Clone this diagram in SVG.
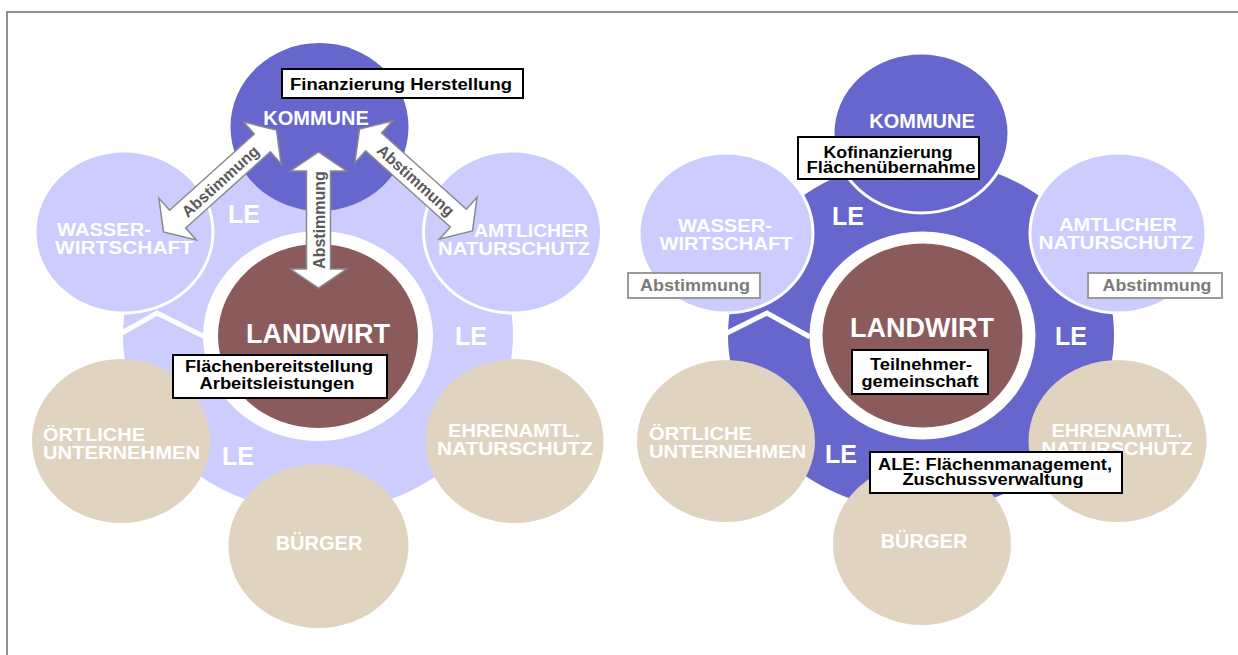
<svg xmlns="http://www.w3.org/2000/svg" width="1238" height="655" viewBox="0 0 1238 655">
<defs>
<style>
text { font-family: "Liberation Sans", Arial, sans-serif; font-weight: bold; }
.lbl { fill: #ffffff; font-size: 20px; }
.lb2 { fill: #ffffff; font-size: 18px; }
.le { fill: #ffffff; font-size: 25px; }
.lw { fill: #ffffff; font-size: 27px; }
.box { fill: #ffffff; stroke: #000000; stroke-width: 2; }
.boxt { fill: #000000; font-size: 16px; }
.gbox { fill: #ffffff; stroke: #9a9a9a; stroke-width: 2; }
.gboxt { fill: #7a7a7a; font-size: 16px; }
.lav { fill: #ccccff; }
.pur { fill: #6666cc; }
.beige { fill: #e0d4c0; }
.brown { fill: #8b5a5a; }
.ring { fill: #ffffff; }
.ws { stroke: #ffffff; stroke-width: 3; }
.notch { fill: none; stroke: #ffffff; stroke-width: 5; }
.arrow { fill: #ffffff; stroke: #8a8a8a; stroke-width: 1.5; }
.arrt { fill: #5a5a5a; font-size: 16px; }
</style>
<path id="diag" d="M-76,0 L-57,-28 L-57,-12 L57,-12 L57,-28 L76,0 L57,28 L57,12 L-57,12 L-57,28 Z"/>
</defs>
<rect x="0" y="0" width="1238" height="655" fill="#ffffff"/>
<rect x="7" y="12" width="1245" height="660" fill="none" stroke="#6f6f6f" stroke-width="1.5"/>

<!-- LEFT DIAGRAM -->
<g id="L-le-area">
  <ellipse class="lav" cx="318" cy="335" rx="195" ry="177"/>
  <polyline class="notch" points="122,333 157,313 205,337"/>
</g>
<g id="L-kommune">
  <ellipse class="pur" cx="319.5" cy="127" rx="89" ry="84"/>
  <text class="lbl" x="316" y="125" text-anchor="middle">KOMMUNE</text>
</g>
<g id="L-wasser">
  <ellipse class="lav ws" cx="124" cy="232" rx="89" ry="81"/>
  <text class="lb2" x="57" y="236" textLength="94" lengthAdjust="spacingAndGlyphs">WASSER-</text>
  <text class="lb2" x="55" y="254" textLength="138" lengthAdjust="spacingAndGlyphs">WIRTSCHAFT</text>
</g>
<g id="L-amtlich">
  <ellipse class="lav ws" cx="512.5" cy="232" rx="89" ry="81"/>
  <text class="lb2" x="588" y="237" text-anchor="end" textLength="114" lengthAdjust="spacingAndGlyphs">AMTLICHER</text>
  <text class="lb2" x="590" y="255" text-anchor="end" textLength="152" lengthAdjust="spacingAndGlyphs">NATURSCHUTZ</text>
</g>
<g id="L-oertlich">
  <ellipse class="beige" cx="121" cy="441" rx="89" ry="82"/>
  <text class="lb2" x="43" y="441" textLength="102" lengthAdjust="spacingAndGlyphs">ÖRTLICHE</text>
  <text class="lb2" x="43" y="459" textLength="157" lengthAdjust="spacingAndGlyphs">UNTERNEHMEN</text>
</g>
<g id="L-ehrenamt">
  <ellipse class="beige" cx="514.5" cy="441" rx="89" ry="82"/>
  <text class="lb2" x="514" y="437" text-anchor="middle" textLength="132" lengthAdjust="spacingAndGlyphs">EHRENAMTL.</text>
  <text class="lb2" x="515" y="455" text-anchor="middle" textLength="156" lengthAdjust="spacingAndGlyphs">NATURSCHUTZ</text>
</g>
<g id="L-buerger">
  <ellipse class="beige" cx="318.5" cy="546" rx="90" ry="82"/>
  <text class="lbl" x="319" y="550" text-anchor="middle">BÜRGER</text>
</g>
<g id="L-landwirt">
  <ellipse class="ring" cx="318" cy="336" rx="115" ry="105"/>
  <ellipse class="brown" cx="318" cy="336" rx="100" ry="92"/>
  <text class="lw" x="318" y="343" text-anchor="middle">LANDWIRT</text>
</g>
<g id="L-le-labels">
  <text class="le" x="228" y="223">LE</text>
  <text class="le" x="455" y="345">LE</text>
  <text class="le" x="222" y="465">LE</text>
</g>
<g id="L-connectors">
  <path class="arrow" d="M318.5,152 L346.5,171 L330.5,171 L330.5,269 L346.5,269 L318.5,288 L290.5,269 L306.5,269 L306.5,171 L290.5,171 Z"/>
  <text class="arrt" transform="translate(319,220) rotate(-90)" x="0" y="6" text-anchor="middle">Abstimmung</text>
  <use href="#diag" class="arrow" transform="translate(220,181) rotate(-42)"/>
  <text class="arrt" transform="translate(220,181) rotate(-42)" x="0" y="6" text-anchor="middle">Abstimmung</text>
  <use href="#diag" class="arrow" transform="translate(416,180) rotate(42)"/>
  <text class="arrt" transform="translate(416,180) rotate(42)" x="0" y="6" text-anchor="middle">Abstimmung</text>
</g>
<g id="L-box-finanz">
  <rect class="box" x="282" y="69" width="241" height="29"/>
  <text class="boxt" x="401" y="90" text-anchor="middle" textLength="222" lengthAdjust="spacingAndGlyphs">Finanzierung Herstellung</text>
</g>
<g id="L-box-flaechen">
  <rect class="box" x="173" y="355" width="214" height="43"/>
  <text class="boxt" x="279" y="372" text-anchor="middle" textLength="188" lengthAdjust="spacingAndGlyphs">Flächenbereitstellung</text>
  <text class="boxt" x="277" y="389" text-anchor="middle" textLength="155" lengthAdjust="spacingAndGlyphs">Arbeitsleistungen</text>
</g>

<!-- RIGHT DIAGRAM -->
<g id="R-le-area">
  <ellipse class="pur" cx="921" cy="335" rx="193" ry="176"/>
  <polyline class="notch" points="727,333 767,313 810,337"/>
</g>
<g id="R-kommune">
  <ellipse class="pur ws" cx="921" cy="133" rx="88" ry="80"/>
  <text class="lbl" x="922" y="128" text-anchor="middle">KOMMUNE</text>
</g>
<g id="R-wasser">
  <ellipse class="lav ws" cx="726" cy="233" rx="87" ry="80"/>
  <text class="lb2" x="725" y="232" text-anchor="middle" textLength="94" lengthAdjust="spacingAndGlyphs">WASSER-</text>
  <text class="lb2" x="726" y="250" text-anchor="middle" textLength="133" lengthAdjust="spacingAndGlyphs">WIRTSCHAFT</text>
</g>
<g id="R-amtlich">
  <ellipse class="lav ws" cx="1118" cy="233" rx="88" ry="80"/>
  <text class="lb2" x="1118" y="231" text-anchor="middle" textLength="118" lengthAdjust="spacingAndGlyphs">AMTLICHER</text>
  <text class="lb2" x="1116" y="249" text-anchor="middle" textLength="155" lengthAdjust="spacingAndGlyphs">NATURSCHUTZ</text>
</g>
<g id="R-oertlich">
  <ellipse class="beige" cx="726" cy="441" rx="89" ry="81"/>
  <text class="lb2" x="649" y="440" textLength="103" lengthAdjust="spacingAndGlyphs">ÖRTLICHE</text>
  <text class="lb2" x="649" y="458" textLength="157" lengthAdjust="spacingAndGlyphs">UNTERNEHMEN</text>
</g>
<g id="R-ehrenamt">
  <ellipse class="beige" cx="1117.5" cy="441" rx="89" ry="81"/>
  <text class="lb2" x="1117" y="437" text-anchor="middle" textLength="131" lengthAdjust="spacingAndGlyphs">EHRENAMTL.</text>
  <text class="lb2" x="1117" y="455" text-anchor="middle" textLength="151" lengthAdjust="spacingAndGlyphs">NATURSCHUTZ</text>
</g>
<g id="R-buerger">
  <ellipse class="beige" cx="922" cy="544" rx="89" ry="81"/>
  <text class="lbl" x="924" y="548" text-anchor="middle">BÜRGER</text>
</g>
<g id="R-landwirt">
  <ellipse class="ring" cx="922.5" cy="335.5" rx="113" ry="104"/>
  <ellipse class="brown" cx="922.5" cy="335.5" rx="100" ry="92"/>
  <text class="lw" x="922" y="337" text-anchor="middle">LANDWIRT</text>
</g>
<g id="R-le-labels">
  <text class="le" x="832" y="225">LE</text>
  <text class="le" x="1055" y="345">LE</text>
  <text class="le" x="825" y="463">LE</text>
</g>
<g id="R-box-kofin">
  <rect class="box" x="798" y="137" width="181" height="42"/>
  <text class="boxt" x="888" y="158" text-anchor="middle" textLength="129" lengthAdjust="spacingAndGlyphs">Kofinanzierung</text>
  <text class="boxt" x="891" y="173" text-anchor="middle" textLength="169" lengthAdjust="spacingAndGlyphs">Flächenübernahme</text>
</g>
<g id="R-box-abst-l">
  <rect class="gbox" x="628" y="273" width="132" height="25"/>
  <text class="gboxt" x="695" y="291" text-anchor="middle" textLength="110" lengthAdjust="spacingAndGlyphs">Abstimmung</text>
</g>
<g id="R-box-abst-r">
  <rect class="gbox" x="1088" y="273" width="134" height="25"/>
  <text class="gboxt" x="1157" y="291" text-anchor="middle" textLength="109" lengthAdjust="spacingAndGlyphs">Abstimmung</text>
</g>
<g id="R-box-tg">
  <rect class="box" x="852" y="350" width="136" height="44"/>
  <text class="boxt" x="921" y="370" text-anchor="middle" textLength="102" lengthAdjust="spacingAndGlyphs">Teilnehmer-</text>
  <text class="boxt" x="920" y="387" text-anchor="middle" textLength="117" lengthAdjust="spacingAndGlyphs">gemeinschaft</text>
</g>
<g id="R-box-ale">
  <rect class="box" x="870" y="452" width="252" height="41"/>
  <text class="boxt" x="995" y="470" text-anchor="middle" textLength="234" lengthAdjust="spacingAndGlyphs">ALE: Flächenmanagement,</text>
  <text class="boxt" x="993" y="485" text-anchor="middle" textLength="181" lengthAdjust="spacingAndGlyphs">Zuschussverwaltung</text>
</g>
</svg>
